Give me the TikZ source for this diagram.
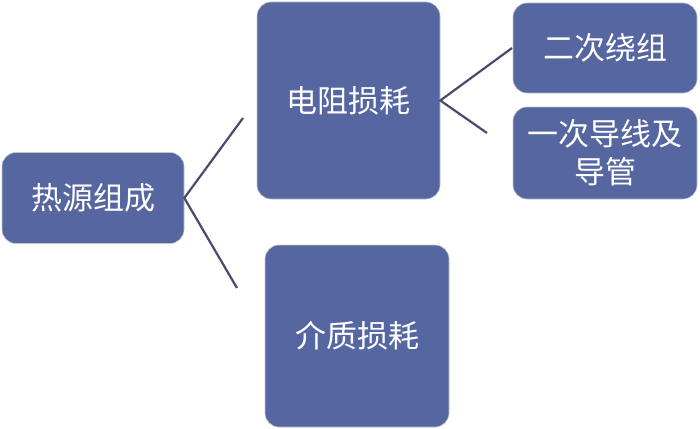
\documentclass[tikz,border=0pt]{standalone}
\usepackage{fontspec}
\newfontfamily\cjk{Noto Sans CJK SC}
\definecolor{boxfill}{RGB}{86,102,160}
\definecolor{linkcol}{RGB}{78,72,108}
\begin{document}
\begin{tikzpicture}[x=1pt,y=-1pt,
  box/.style={draw=gray!45,line width=0.6pt,fill=boxfill,rounded corners=14pt,
    text=white,font=\cjk\fontsize{31}{38}\selectfont,align=center,inner sep=0pt},
  link/.style={draw=linkcol,line width=2.2pt}]
\useasboundingbox (0,0) rectangle (700,428);
\node[box,minimum width=182pt,minimum height=91pt] (A) at (93,198) {热源组成};
\node[box,minimum width=183pt,minimum height=197pt] (B) at (348.5,100.5) {电阻损耗};
\node[box,minimum width=184pt,minimum height=90pt] (C) at (605,48) {二次绕组};
\node[box,minimum width=184pt,minimum height=92pt] (D) at (605,153) {一次导线及\\导管};
\node[box,minimum width=184pt,minimum height=182pt] (E) at (357,336) {介质损耗};
\coordinate (a1) at (243,118);
\coordinate (a2) at (237,288);
\coordinate (b1) at (512,48);
\coordinate (b2) at (487,133);
\draw[link] (a1) -- (A.east) -- (a2);
\draw[link] (b1) -- (B.east) -- (b2);
\end{tikzpicture}
\end{document}
